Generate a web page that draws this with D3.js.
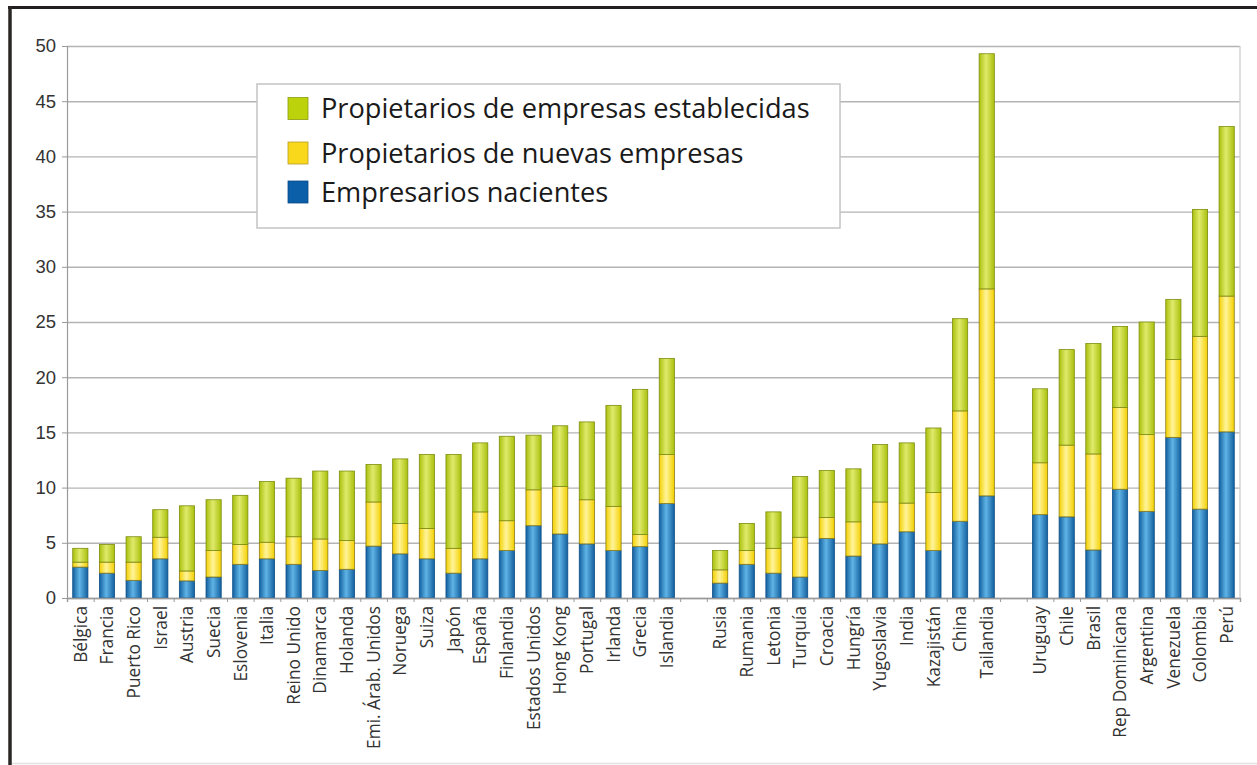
<!DOCTYPE html>
<meta charset="utf-8">
<script src="https://d3js.org/d3.v7.min.js"></script>
<style>
  body { margin: 0; background: #fff; }
  .ytick text { font-family: "Liberation Sans", Arial, sans-serif; font-size: 18.5px; fill: #333; }
  .xlab text { font-family: "Open Sans", sans-serif; font-size: 17.3px; fill: #333; }
  .legend text { font-family: "Open Sans", sans-serif; font-size: 27.2px; fill: #1a1a1a; }
</style>
<body>
<svg id="chart" width="1257" height="765"></svg>
<script>
// countries in three blocks, left to right
var grupo1 = ["Bélgica", "Francia", "Puerto Rico", "Israel", "Austria", "Suecia", "Eslovenia", "Italia",
  "Reino Unido", "Dinamarca", "Holanda", "Emi. Árab. Unidos", "Noruega", "Suiza", "Japón", "España",
  "Finlandia", "Estados Unidos", "Hong Kong", "Portugal", "Irlanda", "Grecia", "Islandia"];
var grupo2 = ["Rusia", "Rumania", "Letonia", "Turquía", "Croacia", "Hungría", "Yugoslavia", "India",
  "Kazajistán", "China", "Tailandia"];
var grupo3 = ["Uruguay", "Chile", "Brasil", "Rep Dominicana", "Argentina", "Venezuela", "Colombia", "Perú"];

// series values (%), same order as the countries above
var nacientes = [2.8, 2.25, 1.6, 3.55, 1.55, 1.9, 3.05, 3.55, 3.05, 2.5, 2.6, 4.7, 4.0, 3.55, 2.25, 3.55,
  4.3, 6.55, 5.8, 4.9, 4.3, 4.65, 8.55,
  1.35, 3.05, 2.25, 1.9, 5.4, 3.8, 4.9, 6.0, 4.3, 6.95, 9.25,
  7.55, 7.35, 4.35, 9.85, 7.85, 14.55, 8.05, 15.05];
var nuevas = [0.45, 1.0, 1.65, 1.95, 0.9, 2.4, 1.8, 1.5, 2.5, 2.85, 2.6, 4.0, 2.75, 2.75, 2.25, 4.25,
  2.7, 3.25, 4.3, 4.0, 4.0, 1.1, 4.45,
  1.2, 1.25, 2.25, 3.6, 1.9, 3.1, 3.8, 2.6, 5.25, 10.0, 18.75,
  4.7, 6.5, 8.7, 7.4, 6.95, 7.05, 15.65, 12.3];
var establecidas = [1.25, 1.6, 2.3, 2.5, 5.9, 4.6, 4.45, 5.5, 5.3, 6.15, 6.3, 3.4, 5.85, 6.7, 8.5, 6.25,
  7.65, 4.95, 5.5, 7.05, 9.15, 13.15, 8.7,
  1.75, 2.45, 3.3, 5.5, 4.25, 4.8, 5.2, 5.45, 5.85, 8.35, 21.3,
  6.7, 8.65, 10.0, 7.35, 10.2, 5.45, 11.5, 15.35];

var serieNames = ["Empresarios nacientes", "Propietarios de nuevas empresas", "Propietarios de empresas establecidas"];
var yTicks = [0, 5, 10, 15, 20, 25, 30, 35, 40, 45, 50];

var svg = d3.select("#chart");
var plotL = 67, plotR = 1240, plotT = 46, plotB = 598;

// slots: blank slots separate the blocks
var paises = grupo1.concat(grupo2, grupo3);
var slots = grupo1.concat(["_gap1"], grupo2, ["_gap2"], grupo3);

var x = d3.scaleBand().domain(slots).range([plotL, plotR]).padding(0);
var xi = d3.scaleLinear().domain([0, slots.length]).range([plotL, plotR]);
var y = d3.scaleLinear().domain([0, 50]).range([plotB, plotT]);

// frame of the picture
svg.append("line").attr("x1", 8).attr("x2", 1257).attr("y1", 7.5).attr("y2", 7.5)
  .attr("stroke", "#231f20").attr("stroke-width", 3);
svg.append("line").attr("x1", 10).attr("x2", 10).attr("y1", 6).attr("y2", 765)
  .attr("stroke", "#2a2626").attr("stroke-width", 3.5);
svg.append("line").attr("x1", 12).attr("x2", 1257).attr("y1", 763.5).attr("y2", 763.5)
  .attr("stroke", "#e2e2e2").attr("stroke-width", 1.5);

// gridlines
svg.append("g")
  .attr("transform", "translate(" + plotL + ",0)")
  .call(d3.axisLeft(y).tickValues(yTicks).tickSize(-(plotR - plotL)).tickFormat(""))
  .call(function (g) {
    g.select(".domain").remove();
    g.selectAll("line").attr("stroke", "#b4b4b4").attr("stroke-width", 1.4);
  });
svg.append("line").attr("x1", plotR).attr("x2", plotR).attr("y1", plotT).attr("y2", plotB)
  .attr("stroke", "#d0d0d0").attr("stroke-width", 1.4);

// y axis
svg.append("g").attr("class", "ytick")
  .attr("transform", "translate(" + plotL + ",0)")
  .call(d3.axisLeft(y).tickValues(yTicks).tickSize(5).tickPadding(6))
  .call(function (g) {
    g.select(".domain").attr("stroke", "#9a9a9a").attr("stroke-width", 1.2);
    g.selectAll("line").attr("stroke", "#9a9a9a");
  });

// gradients for the cylinder look
var defs = svg.append("defs");
var grads = [
  { id: "gBlue", edge: "#13609f", mid: "#5fb4e6" },
  { id: "gYellow", edge: "#f3d000", mid: "#fff49a" },
  { id: "gGreen", edge: "#a9c00c", mid: "#e0ea6c" }
];
grads.forEach(function (g) {
  var lg = defs.append("linearGradient").attr("id", g.id).attr("x1", "0").attr("x2", "1").attr("y1", "0").attr("y2", "0");
  lg.append("stop").attr("offset", "0%").attr("stop-color", g.edge);
  lg.append("stop").attr("offset", "45%").attr("stop-color", g.mid);
  lg.append("stop").attr("offset", "100%").attr("stop-color", g.edge);
});
var strokes = ["#0d4f88", "#8a7a18", "#7d8e10"];

// stacked data
var tabla = paises.map(function (p, i) {
  return { pais: p, a: nacientes[i], b: nuevas[i], c: establecidas[i] };
});
var stack = d3.stack().keys(["a", "b", "c"])(tabla);
var fills = ["url(#gBlue)", "url(#gYellow)", "url(#gGreen)"];
var bw = x.bandwidth() * 0.57;

svg.append("g").selectAll("g")
  .data(stack)
  .enter().append("g")
  .attr("fill", function (d, i) { return fills[i]; })
  .attr("stroke", function (d, i) { return strokes[i]; })
  .attr("stroke-width", 0.8)
  .selectAll("rect")
  .data(function (d) { return d; })
  .enter().append("rect")
  .attr("x", function (d) { return x(d.data.pais) + (x.bandwidth() - bw) / 2; })
  .attr("width", bw)
  .attr("y", function (d) { return y(d[1]); })
  .attr("height", function (d) { return y(d[0]) - y(d[1]); });

// x axis: boundary ticks
svg.append("g")
  .attr("transform", "translate(0," + plotB + ")")
  .call(d3.axisBottom(xi).tickValues(d3.range(0, slots.length + 1)).tickSize(4).tickFormat(""))
  .call(function (g) {
    g.select(".domain").attr("stroke", "#9a9a9a").attr("stroke-width", 1.4);
    g.selectAll("line").attr("stroke", "#9a9a9a");
  });

// x labels, rotated
svg.append("g").attr("class", "xlab")
  .attr("transform", "translate(0," + plotB + ")")
  .call(d3.axisBottom(x).tickSize(0).tickFormat(function (d) { return d.charAt(0) === "_" ? "" : d; }))
  .call(function (g) {
    g.select(".domain").remove();
    g.selectAll("text")
      .attr("text-anchor", "end")
      .attr("transform", "rotate(-90)")
      .attr("x", -8)
      .attr("y", 0)
      .attr("dy", "0.36em");
  });

// legend
var leg = svg.append("g").attr("class", "legend");
leg.append("rect").attr("x", 257).attr("y", 84).attr("width", 583).attr("height", 144)
  .attr("fill", "#fff").attr("stroke", "#c4c4c4").attr("stroke-width", 1.5);
var legItems = [
  { name: serieNames[2], fill: "#bcd30c", stroke: "#8c9c10", cy: 108.5 },
  { name: serieNames[1], fill: "#f9d81c", stroke: "#b59c28", cy: 153 },
  { name: serieNames[0], fill: "#0a5fa8", stroke: "#094a86", cy: 192 }
];
legItems.forEach(function (d) {
  leg.append("rect").attr("x", 288).attr("y", d.cy - 11).attr("width", 20).attr("height", 22)
    .attr("fill", d.fill).attr("stroke", d.stroke).attr("stroke-width", 0.8);
  leg.append("text").attr("x", 321).attr("y", d.cy).attr("dy", "0.36em").text(d.name);
});
</script>
</body>
